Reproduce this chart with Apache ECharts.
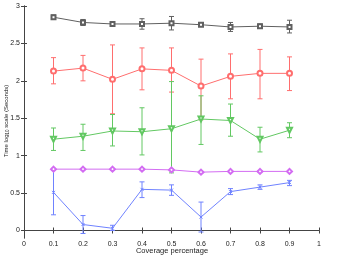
<!DOCTYPE html>
<html><head><meta charset="utf-8">
<script src="https://cdn.jsdelivr.net/npm/echarts@6/dist/echarts.min.js"></script>
<style>html,body{margin:0;padding:0;background:#fff}#c{width:342px;height:259px}</style>
</head><body><div id="c"></div>
<script>
const xs = [0.1,0.2,0.3,0.4,0.5,0.6,0.7,0.8,0.9];
const xTicks = [0,0.1,0.2,0.3,0.4,0.5,0.6,0.7,0.8,0.9,1];
const yTicks = [0,0.5,1,1.5,2,2.5,3];

const blackMean = [2.85,2.78,2.76,2.76,2.77,2.75,2.72,2.73,2.72];
const blackLow  = [2.82,2.74,2.75,2.69,2.68,2.73,2.66,2.70,2.64];
const blackHigh = [2.88,2.82,2.77,2.83,2.86,2.77,2.78,2.76,2.81];

const redMean = [2.13,2.17,2.02,2.16,2.14,1.93,2.06,2.10,2.10];
const redLow  = [1.96,2.00,1.56,1.88,1.85,1.48,1.76,1.76,1.87];
const redHigh = [2.31,2.34,2.48,2.44,2.44,2.29,2.36,2.42,2.32];

const greenMean = [1.22,1.26,1.33,1.32,1.36,1.49,1.47,1.22,1.34];
const greenLow  = [1.07,1.07,1.13,1.01,0.77,1.15,1.26,1.05,1.24];
const greenHigh = [1.37,1.42,1.55,1.64,1.99,1.80,1.69,1.38,1.44];

const magentaMean = [0.82,0.82,0.82,0.82,0.81,0.78,0.79,0.79,0.79];
const magentaLow  = [0.81,0.81,0.81,0.81,0.80,0.77,0.78,0.78,0.78];
const magentaHigh = [0.83,0.83,0.83,0.83,0.82,0.79,0.80,0.80,0.80];

const blueMean = [0.51,0.08,0.03,0.55,0.54,0.18,0.52,0.58,0.64];
const blueLow  = [0.21,-0.04,0.00,0.44,0.47,-0.02,0.48,0.55,0.60];
const blueHigh = [0.82,0.20,0.07,0.65,0.61,0.38,0.56,0.61,0.67];

const groups = [
  {mean: blackMean, low: blackLow, high: blackHigh, color: '#606060', symbol: 'emptyRect', size: 4, rot: 0},
  {mean: redMean, low: redLow, high: redHigh, color: '#ff6e6e', symbol: 'emptyCircle', size: 5, rot: 0},
  {mean: greenMean, low: greenLow, high: greenHigh, color: '#62c862', symbol: 'emptyTriangle', size: 5, rot: 180},
  {mean: magentaMean, low: magentaLow, high: magentaHigh, color: '#d36cf2', symbol: 'emptyDiamond', size: 5, rot: 0},
  {mean: blueMean, low: blueLow, high: blueHigh, color: '#6f82ff', symbol: 'path://M0,0L10,10M10,0L0,10', size: 3, rot: 0}
];

const series = [];
groups.forEach(g => {
  series.push({
    type: 'custom',
    xAxisIndex: 0, yAxisIndex: 0,
    data: xs.map((x, i) => [x, g.low[i], g.high[i]]),
    renderItem: (params, api) => {
      const lo = api.coord([api.value(0), api.value(1)]);
      const hi = api.coord([api.value(0), api.value(2)]);
      const w = 2.5;
      const st = {stroke: g.color, lineWidth: 1, fill: null};
      return {type: 'group', children: [
        {type: 'line', shape: {x1: lo[0], y1: lo[1], x2: hi[0], y2: hi[1]}, style: st},
        {type: 'line', shape: {x1: lo[0]-w, y1: lo[1], x2: lo[0]+w, y2: lo[1]}, style: st},
        {type: 'line', shape: {x1: hi[0]-w, y1: hi[1], x2: hi[0]+w, y2: hi[1]}, style: st}
      ]};
    },
    silent: true, z: 2
  });
  series.push({
    type: 'line',
    xAxisIndex: 0, yAxisIndex: 0,
    data: xs.map((x, i) => [x, g.mean[i]]),
    symbol: g.symbol, symbolSize: g.size, symbolRotate: g.rot,
    lineStyle: {color: g.color, width: 1},
    itemStyle: {color: g.color, borderColor: g.color, borderWidth: 1},
    showSymbol: true, animation: false, z: 3
  });
});

const font = 'Liberation Sans, Arial, sans-serif';
const axisCol = '#444';
const chart = echarts.init(document.getElementById('c'));
chart.setOption({
  animation: false,
  grid: {left: 24, right: 23, top: 6, bottom: 21, outerBoundsMode: 'none', containLabel: false},
  graphic: [{
    type: 'text', x: 6, y: 121, rotation: Math.PI / 2,
    style: {
      text: 'Time log{sub|10} scale (Seconds)',
      fontSize: 6, fill: '#222', fontFamily: font, align: 'center', verticalAlign: 'middle',
      rich: {sub: {fontSize: 4.5, fontFamily: font, fill: '#222', padding: [3, 0, 0, 0]}}
    }
  }, {
    type: 'text', x: 172, y: 251,
    style: {
      text: 'Coverage percentage',
      fontSize: 7.5, fill: '#222', fontFamily: font, align: 'center', verticalAlign: 'middle'
    }
  }],
  xAxis: [
    {type: 'value', min: 0, max: 1, interval: 0.1, position: 'bottom',
     axisLine: {show: true, lineStyle: {color: axisCol}},
     axisTick: {inside: true, length: 3, lineStyle: {color: axisCol}},
     axisLabel: {fontSize: 7, color: '#222', fontFamily: font, margin: 3},
     splitLine: {show: false}},
    {type: 'value', min: 0, max: 1, interval: 0.1, position: 'top',
     axisLine: {show: true, lineStyle: {color: axisCol}},
     axisTick: {inside: true, length: 3, lineStyle: {color: axisCol}},
     axisLabel: {show: false}, splitLine: {show: false}}
  ],
  yAxis: [
    {type: 'value', min: -0.1, max: 3, position: 'left',
     axisLine: {show: true, lineStyle: {color: axisCol}},
     axisTick: {inside: true, length: 3, customValues: yTicks, lineStyle: {color: axisCol}},
     axisLabel: {fontSize: 7, color: '#222', fontFamily: font, margin: 4, customValues: yTicks},
     splitLine: {show: false}},
    {type: 'value', min: -0.1, max: 3, position: 'right',
     axisLine: {show: true, lineStyle: {color: axisCol}},
     axisTick: {inside: true, length: 3, customValues: yTicks, lineStyle: {color: axisCol}},
     axisLabel: {show: false}, splitLine: {show: false}}
  ],
  series: series
});
</script>
</body></html>
